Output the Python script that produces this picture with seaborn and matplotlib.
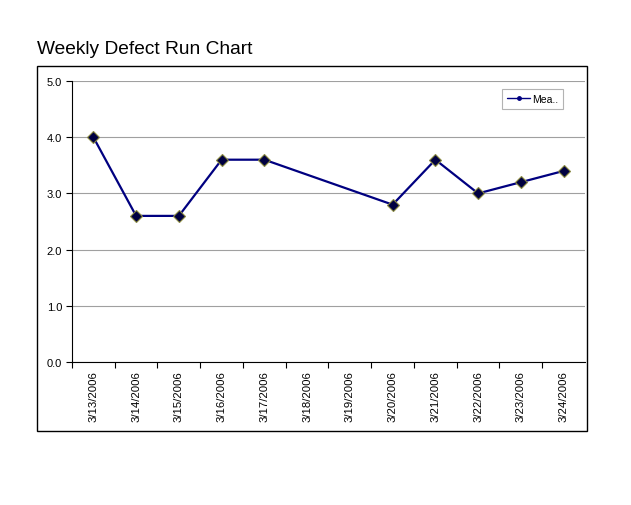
import numpy as np
import pandas as pd
import matplotlib.pyplot as plt
import seaborn as sns
from matplotlib.lines import Line2D
from matplotlib.patches import Rectangle

dates = ['3/13/2006', '3/14/2006', '3/15/2006', '3/16/2006', '3/17/2006', '3/18/2006',
         '3/19/2006', '3/20/2006', '3/21/2006', '3/22/2006', '3/23/2006', '3/24/2006']
defects = [4.0, 2.6, 2.6, 3.6, 3.6, np.nan, np.nan, 2.8, 3.6, 3.0, 3.2, 3.4]
yticks = [0, 1, 2, 3, 4, 5]

sns.set_style('white')
plt.rcParams['font.family'] = ['Liberation Sans', 'DejaVu Sans']
plt.rcParams['text.color'] = 'black'
plt.rcParams['xtick.color'] = 'black'
plt.rcParams['ytick.color'] = 'black'

df = pd.DataFrame({'pos': range(len(dates)), 'value': defects}).dropna()

fig = plt.figure(figsize=(6.31, 5.06), dpi=100)
fig.patches.append(Rectangle((0.0586, 0.1462), 0.8716, 0.7213, transform=fig.transFigure,
                             fill=False, edgecolor='black', linewidth=1, zorder=0))
fig.text(0.059, 0.894, 'Weekly Defect Run Chart', fontsize=13.8, ha='left', va='baseline')

ax = fig.add_axes([0.1141, 0.2826, 0.813, 0.5553])
sns.lineplot(data=df, x='pos', y='value', ax=ax, color='#000080', linewidth=1.6,
             marker='D', markersize=6.5, markerfacecolor='#000040',
             markeredgecolor='#8a8a40', markeredgewidth=0.8)

ax.set_xlim(-0.5, len(dates) - 0.5)
ax.set_ylim(0, 5)
ax.set_yticks(yticks)
ax.set_yticklabels([f'{v:.1f}' for v in yticks], fontsize=8)
ax.set_xticks(np.arange(-0.5, len(dates) - 1, 1.0))
ax.set_xticklabels([])
ax.set_xticks(range(len(dates)), minor=True)
ax.set_xticklabels(dates, minor=True, rotation=90, fontsize=8.2)
ax.tick_params(axis='x', which='major', bottom=True, direction='out', length=4,
               color='black', width=0.8)
ax.tick_params(axis='x', which='minor', bottom=True, length=0, pad=6)
ax.tick_params(axis='y', left=True, direction='out', length=4, color='black', width=0.8, pad=3)
ax.set_xlabel('')
ax.set_ylabel('')

ax.grid(axis='y', color='#a0a0a0', linewidth=0.8)
ax.set_axisbelow(True)
for side in ['top', 'right']:
    ax.spines[side].set_visible(False)
for side in ['left', 'bottom']:
    ax.spines[side].set_color('black')
    ax.spines[side].set_linewidth(0.8)

handle = Line2D([], [], color='#000080', linewidth=1, marker='o', markersize=2.5)
leg = ax.legend([handle], ['Mea..'], loc='upper left', bbox_to_anchor=(0.838, 0.972),
                fontsize=7.5, frameon=True, fancybox=False, borderpad=0.5, handlelength=2.2,
                handletextpad=0.2, borderaxespad=0)
leg.get_frame().set_edgecolor('#a0a0a0')
leg.get_frame().set_linewidth(0.8)

fig.savefig('out.png', dpi=100)
